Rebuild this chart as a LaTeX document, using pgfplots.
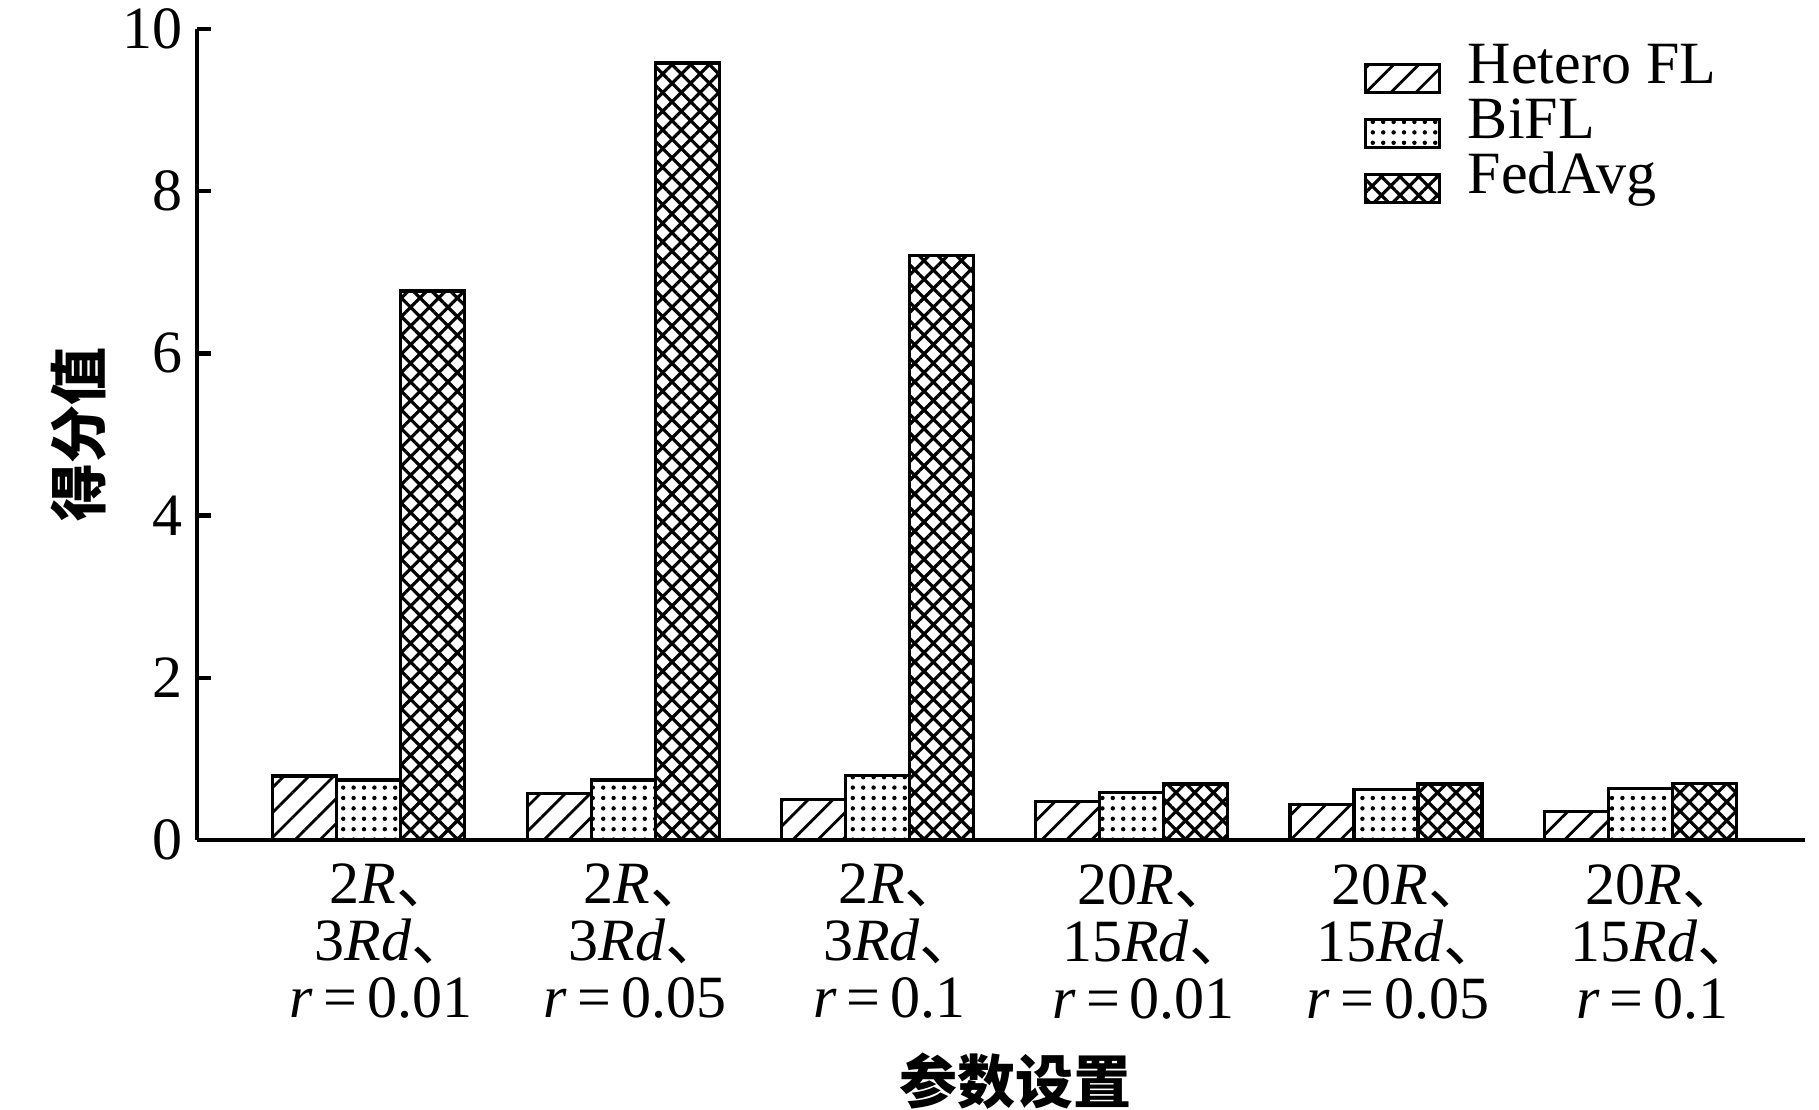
\documentclass[border=0pt]{standalone}
\usepackage{fontspec}
\setmainfont{Liberation Serif}
\newfontfamily\cjk{Noto Sans CJK SC}
\usepackage{pgfplots}
\pgfplotsset{compat=1.18}
\usetikzlibrary{patterns.meta}
\newcommand{\dun}{\makebox[0.6em][l]{\cjk 、}}
\begin{document}
\begin{tikzpicture}
\pgfplotsset{
  mylegend/.style={legend image code/.code={\draw[##1,line width=0.8pt] (0pt,-5.75pt) rectangle (18.5pt,1.25pt);}},
}
\begin{axis}[
  at={(0,0)}, anchor=south west,
  scale only axis,
  width=402pt, height=202.75pt,
  xmin=-0.676, xmax=5.648,
  ymin=0, ymax=10,
  ytick={0,2,4,6,8,10},
  xtick={0,1,2,3,4,5},
  xticklabels={
    {2\textit{R}\dun\\3\textit{Rd}\dun\\\textit{r}\,=\,0.01},
    {2\textit{R}\dun\\3\textit{Rd}\dun\\\textit{r}\,=\,0.05},
    {2\textit{R}\dun\\3\textit{Rd}\dun\\\textit{r}\,=\,0.1},
    {20\textit{R}\dun\\15\textit{Rd}\dun\\\textit{r}\,=\,0.01},
    {20\textit{R}\dun\\15\textit{Rd}\dun\\\textit{r}\,=\,0.05},
    {20\textit{R}\dun\\15\textit{Rd}\dun\\\textit{r}\,=\,0.1}},
  extra x ticks={5.648},
  extra x tick labels={},
  extra x tick style={major tick length=5.25pt, tick style={line width=1.1pt, black}},
  axis x line=bottom, axis y line=left,
  axis line style={-, line width=1.1pt, black},
  ytick style={line width=1.1pt, black},
  xtick style={draw=none},
  major tick length=3.5pt,
  tick align=inside,
  /pgf/number format/assume math mode=true,
  ticklabel style={font=\fontsize{15}{18}\selectfont},
  xticklabel style={align=center, font=\fontsize{15}{14.25}\selectfont, yshift=1pt, xshift=3pt},
  ybar=0pt, bar width=16pt,
  ylabel={\cjk\bfseries 得分值},
  xlabel={\cjk\bfseries 参数设置},
  ylabel style={at={(axis description cs:-0.0734,0.5)}, anchor=center, font=\fontsize{14.5}{16}\selectfont},
  xlabel style={at={(axis description cs:0.5087,-0.297)}, anchor=center, font=\fontsize{14.5}{16}\selectfont},
  legend style={at={(axis description cs:0.7251,0.985)}, anchor=north west, draw=none, fill=none,
    inner sep=0pt, column sep=6.75pt, row sep=0pt,
    nodes={inner sep=0pt, text height=10.5pt, text depth=3.25pt},
    font=\fontsize{15}{18}\selectfont},
  legend cell align=left,
]
\addplot[draw=black, line width=0.8pt, pattern={Lines[angle=45,distance=4.4pt,line width=0.7pt]}, mylegend]
  coordinates {(0,0.79) (1,0.57) (2,0.50) (3,0.47) (4,0.44) (5,0.35)};
\addplot[draw=black, line width=0.8pt, pattern={Dots[distance=2.6pt,radius=0.55pt]}, mylegend]
  coordinates {(0,0.74) (1,0.74) (2,0.80) (3,0.59) (4,0.62) (5,0.63)};
\addplot[draw=black, line width=0.8pt, pattern={Hatch[angle=45,distance=3.3pt,line width=0.8pt]}, mylegend]
  coordinates {(0,6.77) (1,9.58) (2,7.21) (3,0.69) (4,0.69) (5,0.70)};
\legend{Hetero FL, BiFL, FedAvg}
\end{axis}
\pgfresetboundingbox
\path (-49.25pt,-67.5pt) rectangle (405.5pt,210pt);
\end{tikzpicture}
\end{document}
